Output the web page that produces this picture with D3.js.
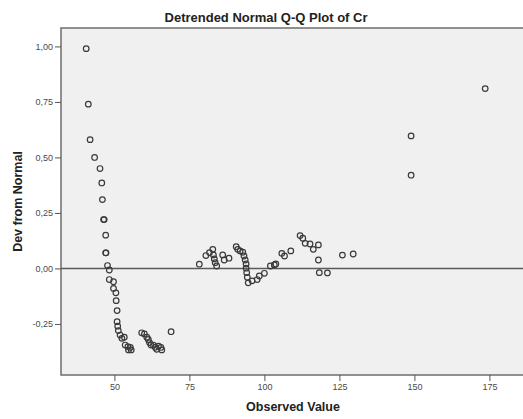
<!DOCTYPE html>
<html>
<head>
<meta charset="utf-8">
<script src="https://cdn.jsdelivr.net/npm/d3@7"></script>
<style>
  html, body { margin: 0; padding: 0; background: #fff; }
  svg { display: block; }
  .tick text { font-family: "Liberation Sans", Arial, sans-serif; font-size: 9px; fill: #4a4a4a; }
  .title, .axis-title { font-family: "Liberation Sans", Arial, sans-serif; font-weight: bold; fill: #222; }
</style>
</head>
<body>
<svg id="chart" width="523" height="419"></svg>
<script>
// Observed values of Cr and their deviation from the fitted normal quantiles
const observed = [
  40.6, 41.3, 41.9, 43.4, 45.2, 45.8, 46.0, 46.4, 46.6, 47.1, 47.1, 47.2, 47.7,
  48.3, 48.3, 49.7, 49.7, 50.5, 50.6, 50.9, 50.9, 51.1, 51.3, 51.9, 52.5, 53.3,
  53.6, 54.5, 54.7, 55.3, 55.6,
  59.1, 60.0, 60.8, 61.3, 61.7, 62.2, 63.0, 63.6, 64.1, 64.7, 65.5, 65.8, 68.9,
  78.3, 80.5, 81.7, 82.8, 83.0, 83.3, 83.6, 84.1, 86.1, 86.6, 88.2,
  90.6, 91.1, 91.9, 92.8, 93.2, 93.6, 93.9, 93.9, 94.1, 94.3, 94.6, 95.9, 97.6,
  98.3, 100.0, 102.0, 103.3, 103.8, 105.8, 106.7, 108.8,
  111.9, 112.8, 113.6, 115.2, 116.3, 118.0, 118.0, 118.3, 121.0, 126.0, 129.6,
  148.9, 148.9, 173.6
];
const devFromNormal = [
  0.99, 0.74, 0.58, 0.50, 0.45, 0.385, 0.31, 0.22, 0.22, 0.15, 0.07, 0.07, 0.013,
  -0.007, -0.05, -0.06, -0.09, -0.11, -0.145, -0.19, -0.24, -0.26, -0.28, -0.30, -0.315, -0.31,
  -0.345, -0.352, -0.367, -0.356, -0.367,
  -0.29, -0.295, -0.31, -0.32, -0.334, -0.345, -0.345, -0.355, -0.364, -0.35, -0.356, -0.367, -0.285,
  0.019, 0.058, 0.071, 0.086, 0.061, 0.043, 0.026, 0.011, 0.061, 0.038, 0.046,
  0.098, 0.086, 0.079, 0.073, 0.056, 0.038, 0.02, 0.001, -0.019, -0.04, -0.065, -0.056, -0.05,
  -0.034, -0.022, 0.011, 0.016, 0.02, 0.068, 0.056, 0.079,
  0.148, 0.136, 0.113, 0.11, 0.086, 0.106, 0.038, -0.019, -0.02, 0.06, 0.065,
  0.597, 0.42, 0.81
];
const xTicks = [50, 75, 100, 125, 150, 175];
const yTicks = [-0.25, 0, 0.25, 0.5, 0.75, 1.0];

const svg = d3.select("#chart");
const plot = { left: 61, top: 28, right: 526, bottom: 375 };

const x = d3.scaleLinear().domain([32.2, 187.2]).range([plot.left, plot.right]);
const y = d3.scaleLinear().domain([-0.48, 1.083]).range([plot.bottom, plot.top]);

// Plot background and frame
svg.append("rect")
  .attr("x", plot.left).attr("y", plot.top)
  .attr("width", plot.right - plot.left).attr("height", plot.bottom - plot.top)
  .attr("fill", "#f0f0f0").attr("stroke", "#6e6e6e").attr("stroke-width", 1.5);

// Decimal comma, plain hyphen for negatives
const fmt = d => d3.format(".2f")(d).replace(".", ",").replace("\u2212", "-");

const yAxis = svg.append("g")
  .attr("transform", `translate(${plot.left},0)`)
  .call(d3.axisLeft(y).tickValues(yTicks).tickFormat(fmt).tickSize(6).tickPadding(2));
yAxis.select(".domain").remove();
yAxis.selectAll(".tick line").attr("stroke", "#555");

const xAxis = svg.append("g")
  .attr("transform", `translate(0,${plot.bottom})`)
  .call(d3.axisBottom(x).tickValues(xTicks).tickFormat(d3.format("d")).tickSize(6).tickPadding(3));
xAxis.select(".domain").remove();
xAxis.selectAll(".tick line").attr("stroke", "#555");

// Reference line at zero deviation
svg.append("line")
  .attr("x1", plot.left).attr("x2", plot.right)
  .attr("y1", y(0)).attr("y2", y(0))
  .attr("stroke", "#5a5a5a").attr("stroke-width", 1.5);

// Points
svg.append("g").selectAll("circle")
  .data(observed.map((v, i) => [v, devFromNormal[i]]))
  .join("circle")
  .attr("cx", d => x(d[0]))
  .attr("cy", d => y(d[1]))
  .attr("r", 2.8)
  .attr("fill", "none")
  .attr("stroke", "#3a3a3a")
  .attr("stroke-width", 1.2);

// Titles
svg.append("text").attr("class", "title")
  .attr("x", 266).attr("y", 22).attr("text-anchor", "middle")
  .style("font-size", "13px")
  .text("Detrended Normal Q-Q Plot of Cr");

svg.append("text").attr("class", "axis-title")
  .attr("x", 293).attr("y", 411).attr("text-anchor", "middle")
  .style("font-size", "12.5px")
  .text("Observed Value");

svg.append("text").attr("class", "axis-title")
  .attr("transform", `translate(22,${(plot.top + plot.bottom) / 2}) rotate(-90)`)
  .attr("text-anchor", "middle")
  .style("font-size", "12.5px")
  .text("Dev from Normal");
</script>
</body>
</html>
